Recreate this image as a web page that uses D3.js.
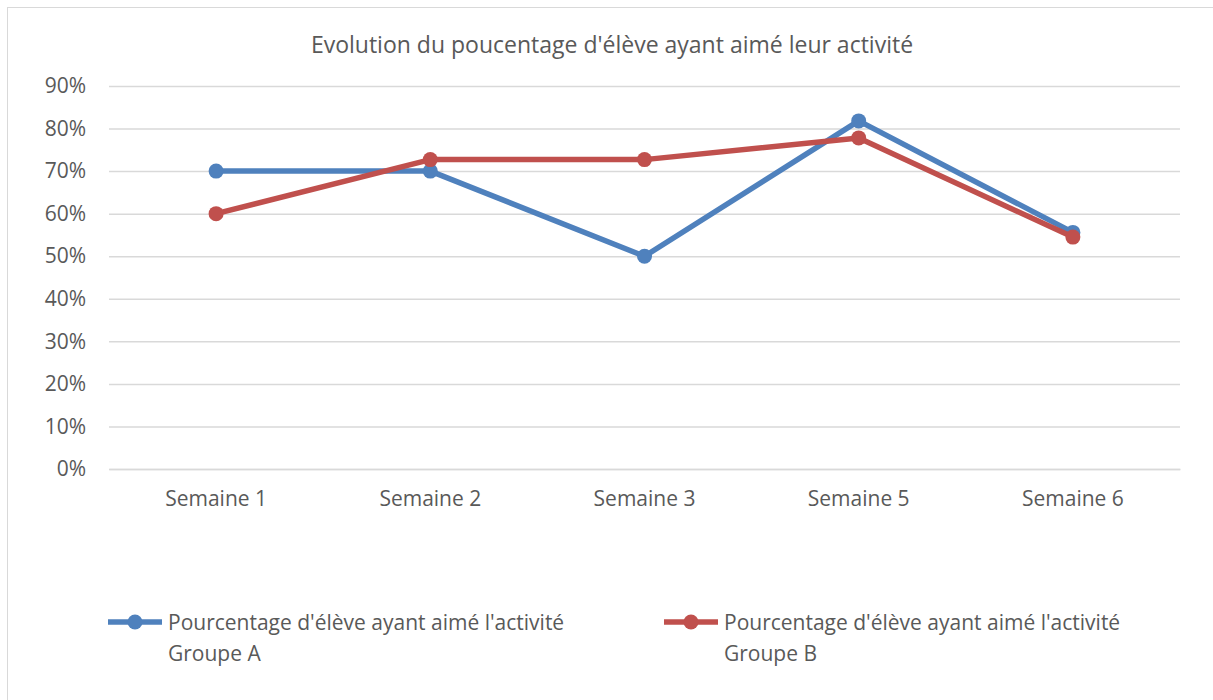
<html>

<head>
    <meta charset="utf-8">
    <script src="https://d3js.org/d3.v7.min.js"></script>
    <style>
        body { margin: 0; background: #fff; }
        text { font-family: "Open Sans", "Noto Sans", sans-serif; fill: #595959; }
    </style>
</head>

<body></body>
<script>

    // data
    var semaines = ["Semaine 1", "Semaine 2", "Semaine 3", "Semaine 5", "Semaine 6"];
    var groupeA = [0.70, 0.70, 0.50, 0.818, 0.556];
    var groupeB = [0.60, 0.727, 0.727, 0.778, 0.545];
    var yTicks = [0, 0.1, 0.2, 0.3, 0.4, 0.5, 0.6, 0.7, 0.8, 0.9];
    var seriesNames = ["Pourcentage d'élève ayant aimé l'activité Groupe A",
        "Pourcentage d'élève ayant aimé l'activité Groupe B"];
    var colors = ["#4F81BD", "#C0504D"];

    var W = 1213, H = 700;
    var margin = { top: 86, right: 33, bottom: 231, left: 109 },
        width = W - margin.left - margin.right,
        height = H - margin.top - margin.bottom;

    var root = d3.select("body")
        .append("svg")
        .attr("width", W)
        .attr("height", H);

    // chart border
    root.append("rect")
        .attr("x", 7.5).attr("y", 7.5)
        .attr("width", W).attr("height", H)
        .attr("fill", "none")
        .attr("stroke", "#d9d9d9");

    // title
    root.append("text")
        .attr("x", 612)
        .attr("y", 53)
        .attr("text-anchor", "middle")
        .style("font-size", "23px")
        .text("Evolution du poucentage d'élève ayant aimé leur activité");

    var svg = root.append("g")
        .attr("transform", "translate(" + margin.left + "," + margin.top + ")");

    var x = d3.scaleBand()
        .domain(semaines)
        .range([0, width]);

    var y = d3.scaleLinear()
        .domain([0, 0.9])
        .range([height, 0]);

    // gridlines
    svg.append("g")
        .call(d3.axisLeft(y).tickValues(yTicks).tickSize(-width).tickFormat(""))
        .call(g => g.select(".domain").remove())
        .call(g => g.selectAll("line").attr("stroke", "#d9d9d9").attr("stroke-width", 1.5));

    // y labels
    svg.append("g")
        .attr("font-size", 21)
        .attr("font-family", null)
        .call(d3.axisLeft(y).tickValues(yTicks).tickSize(0).tickPadding(23).tickFormat(d3.format(".0%")))
        .call(g => g.select(".domain").remove())
        .call(g => g.selectAll("text").style("font-size", "21px").style("fill", "#595959"));

    // x axis
    svg.append("g")
        .attr("transform", "translate(0," + height + ")")
        .call(d3.axisBottom(x).tickSize(0).tickPadding(22))
        .call(g => g.select(".domain").attr("stroke", "#d9d9d9").attr("stroke-width", 1.5))
        .call(g => g.selectAll("text").style("font-size", "21px").style("fill", "#595959"));

    var line = d3.line()
        .x((d, i) => x(semaines[i]) + x.bandwidth() / 2)
        .y(d => y(d));

    [groupeA, groupeB].forEach(function (vals, k) {
        svg.append("path")
            .datum(vals)
            .attr("fill", "none")
            .attr("stroke", colors[k])
            .attr("stroke-width", 5.5)
            .attr("stroke-linejoin", "round")
            .attr("d", line);

        svg.append("g")
            .selectAll("circle")
            .data(vals)
            .enter()
            .append("circle")
            .attr("cx", (d, i) => x(semaines[i]) + x.bandwidth() / 2)
            .attr("cy", d => y(d))
            .attr("r", 7.5)
            .attr("fill", colors[k]);
    });

    // legend
    var legendX = [108, 664];
    seriesNames.forEach(function (name, k) {
        var g = root.append("g").attr("transform", "translate(" + legendX[k] + ",622)");
        g.append("line")
            .attr("x1", 0).attr("x2", 54)
            .attr("stroke", colors[k]).attr("stroke-width", 5.5);
        g.append("circle")
            .attr("cx", 27).attr("r", 7.5).attr("fill", colors[k]);
        var t = g.append("text")
            .attr("x", 60).attr("y", 8)
            .style("font-size", "21px");
        var cut = name.lastIndexOf(" Groupe");
        t.append("tspan").attr("x", 60).text(name.slice(0, cut));
        t.append("tspan").attr("x", 60).attr("dy", 31).text(name.slice(cut + 1));
    });

</script>

</html>
